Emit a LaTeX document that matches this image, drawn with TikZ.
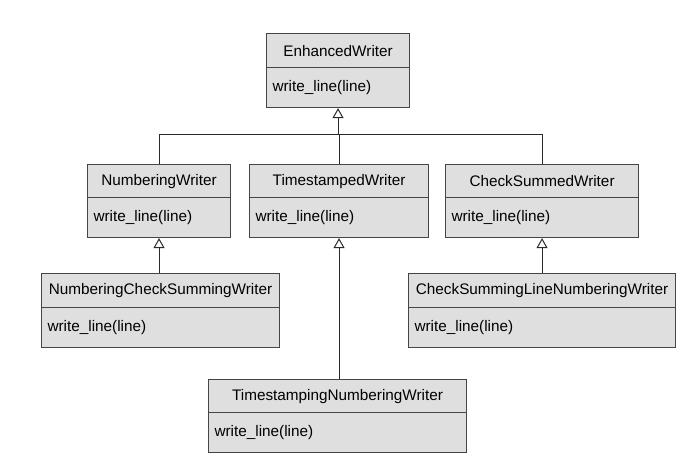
\documentclass[tikz,border=0pt]{standalone}
\usepackage{fontspec}
\setmainfont{Liberation Sans}
\usetikzlibrary{arrows.meta}
\definecolor{boxfill}{HTML}{DFDFDF}
\definecolor{boxline}{HTML}{454545}
\definecolor{conn}{HTML}{2A2A2A}
\tikzset{
  box/.style={draw=boxline, fill=boxfill, line width=1.1pt, inner sep=0pt,
              font=\fontsize{15.3}{18}\selectfont, text=black},
  link/.style={draw=conn, line width=1pt},
  inh/.style={link, -{Triangle[open, length=10pt, width=11pt, line width=1pt, fill=white]}}
}
\newcommand\umlcls[7]{%
  \node[box, minimum width={#6-#2}, minimum height={#4-#3}, anchor=north west] (#1) at (#2,#3) {#7};
  \node[box, minimum width={#6-#2}, minimum height={#5-#4}, anchor=north west,
        text width={#6-#2-12}, inner xsep=6pt, align=left] (#1m) at (#2,#4) {write\_line(line)};
}
\begin{document}
\begin{tikzpicture}[x=1pt, y=-1pt]
\useasboundingbox (0,0) rectangle (695,463);
\umlcls{ew}{266}{33}{67}{107}{409}{EnhancedWriter}
\umlcls{nw}{87}{164}{197}{237}{230}{NumberingWriter}
\umlcls{tw}{249}{164}{197}{237}{428}{TimestampedWriter}
\umlcls{cw}{445}{164}{197}{237}{638}{CheckSummedWriter}
\umlcls{ncw}{41}{273}{307}{347}{279}{NumberingCheckSummingWriter}
\umlcls{clw}{408}{273}{307}{347}{675}{CheckSummingLineNumberingWriter}
\umlcls{tnw}{208}{379}{412}{452}{466}{TimestampingNumberingWriter}
\coordinate (j) at (ewm.south |- 0,134.5);
\draw[link] (nw.north) |- (j) -| (cw.north);
\draw[link] (tw.north) -- (tw.north |- j);
\draw[inh] (j) -- (ewm.south);
\draw[inh] (ncw.north -| nwm.south) -- (nwm.south);
\draw[inh] (tnw.north -| twm.south) -- (twm.south);
\draw[inh] (clw.north -| cwm.south) -- (cwm.south);
\end{tikzpicture}
\end{document}
